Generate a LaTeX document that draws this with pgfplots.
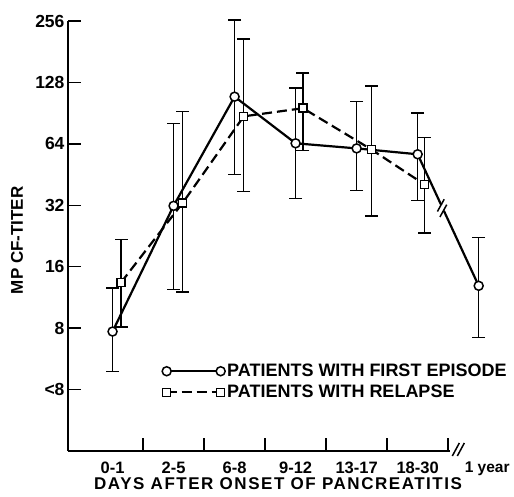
\documentclass[border=0pt]{standalone}
\usepackage{fontspec}
\setmainfont{Liberation Sans}
\usepackage{pgfplots}
\pgfplotsset{compat=1.18}

\begin{document}
\begin{tikzpicture}
\path[use as bounding box] (-68pt,-45pt) rectangle (446pt,451pt);
\begin{axis}[
    at={(0pt,0pt)}, anchor=south west,
    scale only axis,
    width=382pt, height=430pt,
    ymode=log, log basis y=2,
    ymin=2, ymax=256,
    xmin=-0.73, xmax=5.53,
    axis x line*=bottom, axis y line*=left,
    axis line style={line width=1.6pt},
    tick align=inside,
    major tick length=13pt,
    tick style={line width=1.4pt, black},
    ytick={4,8,16,32,64,128,256},
    yticklabels={{<8},8,16,32,64,128,256},
    yticklabel style={font=\bfseries\fontsize{17.5}{17.5}\selectfont},
    xtick={0.5,1.5,2.5,3.5,4.5,5.5},
    xticklabels={},
    extra x ticks={0,1,2,3,4,5},
    extra x tick labels={0-1,2-5,6-8,9-12,13-17,18-30},
    extra x tick style={major tick length=0pt,
        xticklabel style={yshift=-7pt}},
    xticklabel style={font=\bfseries\fontsize{16.5}{16.5}\selectfont},
    ylabel={MP CF-TITER},
    ylabel style={at={(rel axis cs:0,0.49)}, anchor=center, yshift=51pt,
        font=\bfseries\fontsize{17}{17}\selectfont},
    xlabel={DAYS AFTER ONSET OF PANCREATITIS},
    xlabel style={at={(rel axis cs:0.55,0)}, anchor=center, yshift=-33pt,
        font=\bfseries\fontsize{17}{17}\selectfont\addfontfeatures{LetterSpace=9}},
    clip=false,
    legend style={draw=none, fill=none, at={(rel axis cs:0.246,0.207)},
        anchor=north west, inner sep=0pt, row sep=3pt,
        font=\bfseries\fontsize{18}{18}\selectfont},
    legend cell align=left,
    legend image code/.code={\draw[#1] plot coordinates {(0pt,0pt) (54pt,0pt)};},
]

% error bars, first episode
\addplot[forget plot, black, line width=1.5pt, mark=-, mark size=6.5pt,
    unbounded coords=jump] coordinates {
    (0,4.9) (0,12.6) (nan,nan)
    (1,12.4) (1,80.6) (nan,nan)
    (2,45.3) (2,259) (nan,nan)
    (3,34.5) (3,120) (nan,nan)
    (4,37.8) (4,103) (nan,nan)
    (5,33.8) (5,90.5) (nan,nan)
    (6,7.2) (6,22.2)
};
% error bars, relapse
\addplot[forget plot, black, line width=1.5pt, mark=-, mark size=6.5pt,
    unbounded coords=jump] coordinates {
    (0.14,8.1) (0.14,21.7) (nan,nan)
    (1.15,12.0) (1.15,92.4) (nan,nan)
    (2.15,37.3) (2.15,209) (nan,nan)
    (3.12,59.3) (3.12,142) (nan,nan)
    (4.24,28.4) (4.24,123) (nan,nan)
    (5.11,23.4) (5.11,68.6)
};

\addplot[black, line width=2.2pt, mark=*, mark size=4.5pt,
    mark options={fill=white, solid, line width=1.5pt}] coordinates {
    (0,7.7) (1,31.8) (2,109) (3,64.4) (4,60.8) (5,56.9) (6,12.9)
};
\addlegendentry{PATIENTS WITH FIRST EPISODE}

\addplot[black, line width=2.2pt, dash pattern=on 10pt off 5pt, mark=square*, mark size=4pt,
    mark options={fill=white, solid, line width=1.5pt}] coordinates {
    (0.14,13.4) (1.15,32.9) (2.15,87.3) (3.12,95.7) (4.24,60.1) (5.11,40.5)
};
\addlegendentry{PATIENTS WITH RELAPSE}

% break on the line to 1 year
\fill[white, shift={(axis cs:5.40,31)}, rotate=-65] (-3pt,-5pt) rectangle (3pt,5pt);
\draw[line width=1.5pt, shift={(axis cs:5.40,31)}, rotate=-65]
    (-3pt,0pt) ++(126:-7pt) -- ++(126:14pt)
    (3pt,0pt) ++(126:-7pt) -- ++(126:14pt);
% break on the x axis
\draw[line width=1.5pt, shift={(axis cs:5.65,2)}]
    (-5pt,-5pt) -- (2pt,8pt)
    (0pt,-5pt) -- (7pt,8pt);
\node[anchor=north, font=\bfseries\fontsize{15.5}{15.5}\selectfont]
    at (axis cs:6.14,2) [yshift=-7pt] {1 year};
\end{axis}
\end{tikzpicture}
\end{document}
